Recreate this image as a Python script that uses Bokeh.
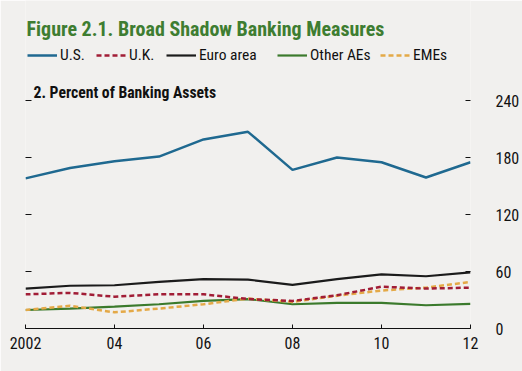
from bokeh.plotting import figure
from bokeh.models import (Range1d, LinearAxis, FixedTicker, Label, Legend, LegendItem,
                          ColumnDataSource)
from bokeh.embed import file_html
from bokeh.resources import INLINE

years = [2002, 2003, 2004, 2005, 2006, 2007, 2008, 2009, 2010, 2011, 2012]
us = [158, 169, 176, 181, 199, 207, 167, 180, 175, 159, 175]
uk = [36, 37.5, 33.5, 36, 36, 31, 29, 35, 44, 42, 43]
euro = [42, 45, 45.5, 49, 52, 51.5, 46, 52, 57, 55, 59]
other_aes = [19.5, 21, 23, 25.5, 29, 31, 25.5, 27, 27, 24.5, 26]
emes = [19.5, 24, 17, 21, 25.5, 31.5, 28, 34.5, 40, 43, 49]

series_names = ["U.S.", "U.K.", "Euro area", "Other AEs", "EMEs"]
x_ticks = [2002, 2004, 2006, 2008, 2010, 2012]
x_tick_labels = ["2002", "04", "06", "08", "10", "12"]
y_ticks = [0, 60, 120, 180, 240]

FONT = "'Roboto Condensed', 'DejaVu Sans Condensed', Roboto, sans-serif"
BG = "#f1f0ee"

# frame spans the whole top area so the header texts are drawn inside it;
# the 0..240 scale occupies the lower 228 px of the 328 px frame
p = figure(width=522, height=371, output_backend="svg", toolbar_location=None,
           x_range=Range1d(2002, 2012), y_range=Range1d(0, 240 * 328 / 228),
           x_axis_type=None, y_axis_type=None,
           min_border_left=25, min_border_right=50, min_border_top=0, min_border_bottom=43,
           background_fill_color=BG, border_fill_color=BG, outline_line_color=None)
p.grid.visible = False

xaxis = LinearAxis(ticker=FixedTicker(ticks=x_ticks),
                   major_label_overrides={t: l for t, l in zip(x_ticks, x_tick_labels)})
xaxis.major_tick_in = 4
xaxis.major_tick_out = 0
xaxis.minor_tick_line_color = None
xaxis.axis_line_color = "#111111"
xaxis.major_tick_line_color = "#111111"
xaxis.major_label_text_font = FONT
xaxis.major_label_text_font_size = "16px"
xaxis.major_label_text_color = "#111111"
xaxis.major_label_standoff = 8
p.add_layout(xaxis, "below")

laxis = LinearAxis(ticker=FixedTicker(ticks=y_ticks))
laxis.major_tick_in = 6
laxis.major_tick_out = 0
laxis.minor_tick_line_color = None
laxis.axis_line_color = None
laxis.major_tick_line_color = "#111111"
laxis.major_label_text_color = None
laxis.major_label_text_font_size = "1px"
p.add_layout(laxis, "left")

raxis = LinearAxis(ticker=FixedTicker(ticks=y_ticks))
raxis.major_tick_in = 5
raxis.major_tick_out = 0
raxis.minor_tick_line_color = None
raxis.axis_line_color = None
raxis.major_tick_line_color = "#111111"
raxis.major_label_text_font = FONT
raxis.major_label_text_font_size = "16px"
raxis.major_label_text_color = "#111111"
raxis.major_label_text_align = "right"
raxis.major_label_standoff = 25
p.add_layout(raxis, "right")

src = ColumnDataSource(dict(year=years, us=us, uk=uk, euro=euro, other=other_aes, emes=emes))

r_euro = p.line("year", "euro", source=src, line_color="#1b1b1b", line_width=2.2)
r_other = p.line("year", "other", source=src, line_color="#3b7a2c", line_width=2.2)
r_emes = p.line("year", "emes", source=src, line_color="#e4a947", line_width=2.5, line_dash="5 3")
r_uk = p.line("year", "uk", source=src, line_color="#a11d36", line_width=2.5, line_dash="5 3")
r_us = p.line("year", "us", source=src, line_color="#1f6990", line_width=2.5)

renderers = [r_us, r_uk, r_euro, r_other, r_emes]
legend_x = [2, 71, 141, 252, 355]  # screen offsets of each legend entry
for name, r, lx in zip(series_names, renderers, legend_x):
    lg = Legend(items=[LegendItem(label=name, renderers=[r])],
                orientation="horizontal", location=(lx, 263), padding=0, margin=0,
                glyph_width=30, glyph_height=20, label_standoff=3, label_height=20,
                border_line_color=None, background_fill_alpha=0,
                label_text_font=FONT, label_text_font_size="15.5px",
                label_text_color="#111111")
    p.add_layout(lg, "center")

title = Label(x=1, y=300, x_units="screen", y_units="screen",
              text="Figure 2.1. Broad Shadow Banking Measures",
              text_font=FONT, text_font_size="20px", text_font_style="bold",
              text_color="#3e7d31", text_baseline="alphabetic")
p.add_layout(title)

sub = Label(x=8, y=236, x_units="screen", y_units="screen",
            text="2. Percent of Banking Assets",
            text_font=FONT, text_font_size="15.7px", text_font_style="bold",
            text_color="#111111", text_baseline="alphabetic")
p.add_layout(sub)

open("out.html", "w").write(file_html(p, INLINE))
